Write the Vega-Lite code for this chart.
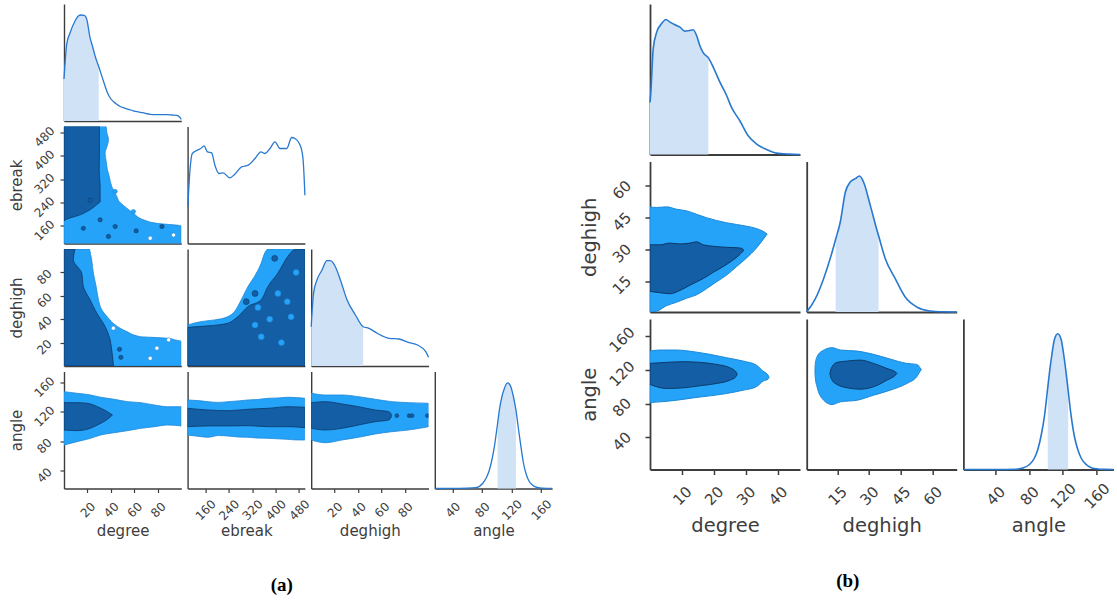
{
"$schema":"https://vega.github.io/schema/vega-lite/v6.json",
"padding":{"left":9,"top":4,"right":2,"bottom":2},
"config":{"view":{"stroke":null},"font":"DejaVu Sans",
"axis":{"grid":false,"labelOverlap":false,"labelFlush":false,"domainColor":"#3d3d3d","domainWidth":1.4,"tickColor":"#3d3d3d","tickWidth":1.2,"labelColor":"#3d3d3d","titleColor":"#3d3d3d","labelFont":"DejaVu Sans","titleFont":"DejaVu Sans","titleFontWeight":"normal"}},
"datasets":{
"a11":[{"x":0,"h":42},{"x":2.3,"h":76.7},{"x":5.1,"h":88},{"x":9.4,"h":100},{"x":12.2,"h":105},{"x":14.5,"h":106},{"x":17.3,"h":105.7},{"x":19.4,"h":101.7},{"x":22.2,"h":83.3},{"x":24.5,"h":74},{"x":26.5,"h":65},{"x":29.6,"h":54.5},{"x":33.6,"h":40},{"x":37,"h":28.3},{"x":40,"h":22},{"x":44.4,"h":17.3},{"x":48,"h":14.5},{"x":52.1,"h":12.7},{"x":57,"h":11},{"x":62.1,"h":9.3},{"x":67,"h":8.3},{"x":73.5,"h":6.7},{"x":80,"h":6.4},{"x":87.8,"h":6.3},{"x":92,"h":6},{"x":96.3,"h":5.7},{"x":98.5,"h":4},{"x":100,"h":1.7}],
"a22":[{"x":101,"h":37.3},{"x":108,"h":73},{"x":116,"h":90},{"x":131,"h":93},{"x":145,"h":95},{"x":156,"h":97.6},{"x":168,"h":91.6},{"x":182,"h":90.6},{"x":193,"h":78.3},{"x":207,"h":70},{"x":221,"h":70.6},{"x":244,"h":65.6},{"x":261,"h":69.3},{"x":284,"h":76.6},{"x":307,"h":78.3},{"x":330,"h":85},{"x":350,"h":91.6},{"x":364,"h":90},{"x":381,"h":95},{"x":398,"h":101.6},{"x":415,"h":95},{"x":438,"h":95},{"x":455,"h":106},{"x":466,"h":105},{"x":486,"h":96.6},{"x":494,"h":83.3},{"x":500,"h":48.3}],
"a33":[{"x":0,"h":39.3},{"x":2,"h":72.7},{"x":4.9,"h":86},{"x":9.2,"h":96},{"x":13.4,"h":105.3},{"x":16.3,"h":105.3},{"x":20.6,"h":99.3},{"x":24.9,"h":86},{"x":30.6,"h":66},{"x":37.7,"h":51},{"x":44.3,"h":39.3},{"x":49.2,"h":37.7},{"x":56.3,"h":32.7},{"x":66.3,"h":27.7},{"x":74.9,"h":27},{"x":83.5,"h":23.3},{"x":90.6,"h":21},{"x":97.7,"h":14.3},{"x":100,"h":8.7}],
"a44":[{"x":16,"h":0},{"x":40,"h":0.1},{"x":60,"h":0.3},{"x":71.7,"h":0.8},{"x":80.8,"h":5},{"x":86,"h":11},{"x":89.9,"h":18.3},{"x":93.5,"h":29},{"x":96.7,"h":41.6},{"x":100,"h":59},{"x":101.1,"h":65},{"x":103.5,"h":78.3},{"x":107,"h":92},{"x":110.3,"h":100},{"x":112.5,"h":104},{"x":114.8,"h":105.6},{"x":117,"h":104.5},{"x":119.2,"h":101.6},{"x":122.5,"h":92},{"x":126,"h":78.3},{"x":129.5,"h":59},{"x":132.8,"h":41.6},{"x":136,"h":26},{"x":139.6,"h":15},{"x":144,"h":7},{"x":148.7,"h":3.3},{"x":155,"h":1},{"x":162,"h":0.3},{"x":175,"h":0}],
"b11":[{"x":0,"h":52},{"x":0.2,"h":59},{"x":1,"h":105.7},{"x":2.1,"h":122.4},{"x":3.6,"h":130.7},{"x":5,"h":135},{"x":6.25,"h":132.4},{"x":7.8,"h":129.7},{"x":9.4,"h":127.4},{"x":10.9,"h":123.4},{"x":12.3,"h":124},{"x":13.5,"h":124.7},{"x":14.6,"h":119},{"x":15.6,"h":109},{"x":16.7,"h":101.7},{"x":18.3,"h":96.6},{"x":19.8,"h":87.4},{"x":21.9,"h":72.4},{"x":24,"h":59},{"x":25.5,"h":47.4},{"x":28.1,"h":34},{"x":30.7,"h":19},{"x":33.3,"h":10.7},{"x":36.5,"h":5},{"x":39.6,"h":1.4},{"x":43.75,"h":0.4},{"x":47,"h":0}],
"b22":[{"x":0.5,"h":0.5},{"x":1,"h":1.6},{"x":4.6,"h":13.3},{"x":8.5,"h":33.3},{"x":13.2,"h":65},{"x":14.2,"h":72.8},{"x":16.4,"h":90},{"x":18.8,"h":120},{"x":21.1,"h":130},{"x":23.5,"h":133.3},{"x":25.5,"h":136},{"x":27.4,"h":130},{"x":30.6,"h":106.6},{"x":34,"h":80},{"x":34.5,"h":76.4},{"x":37.7,"h":53.3},{"x":42.4,"h":33.3},{"x":47.1,"h":15},{"x":52.6,"h":5},{"x":58.9,"h":1},{"x":65,"h":0.2},{"x":71.5,"h":0}],
"b33":[{"x":2,"h":0},{"x":40,"h":0},{"x":64.6,"h":0.3},{"x":72.4,"h":1.5},{"x":80.4,"h":5},{"x":86,"h":11},{"x":90.3,"h":20},{"x":94.5,"h":35},{"x":98.2,"h":53.3},{"x":102.1,"h":82},{"x":104.1,"h":96.6},{"x":107,"h":115},{"x":110,"h":130},{"x":114,"h":135.7},{"x":118,"h":130},{"x":121,"h":115},{"x":123.9,"h":96.6},{"x":126.3,"h":79},{"x":129.9,"h":53.3},{"x":133.5,"h":34},{"x":137.7,"h":20},{"x":142,"h":11},{"x":147.7,"h":5},{"x":153,"h":2},{"x":159.6,"h":0.7},{"x":170,"h":0.1},{"x":180,"h":0}],
"a21c":[{"lev":1,"y":100,"x":100},{"lev":1,"y":160,"x":100},{"lev":1,"y":169,"x":79},{"lev":1,"y":181,"x":67.8},{"lev":1,"y":204,"x":59},{"lev":1,"y":226,"x":52},{"lev":1,"y":244,"x":47},{"lev":1,"y":261,"x":45},{"lev":1,"y":295,"x":40.7},{"lev":1,"y":330,"x":38.5},{"lev":1,"y":352,"x":37},{"lev":1,"y":380,"x":36},{"lev":1,"y":409,"x":35},{"lev":1,"y":430,"x":36.5},{"lev":1,"y":455,"x":37.9},{"lev":1,"y":480,"x":36.5},{"lev":1,"y":500,"x":35.9},
{"lev":2,"y":178,"x":0},{"lev":2,"y":183,"x":2.3},{"lev":2,"y":198,"x":13.7},{"lev":2,"y":215,"x":22},{"lev":2,"y":233,"x":28},{"lev":2,"y":244,"x":30.8},{"lev":2,"y":295,"x":30.8},{"lev":2,"y":350,"x":30},{"lev":2,"y":409,"x":30.2},{"lev":2,"y":500,"x":30.2}],
"a21b":[{"x":22.2,"y":248,"lev":2},{"x":43.6,"y":158,"lev":2},{"x":30.8,"y":181,"lev":2},{"x":37.9,"y":124,"lev":2},{"x":61.5,"y":143,"lev":2},{"x":83.5,"y":158,"lev":2},{"x":16.5,"y":152,"lev":2},{"x":73.5,"y":118,"lev":0},{"x":93.4,"y":129,"lev":0},{"x":43.6,"y":278,"lev":1},{"x":59.2,"y":209,"lev":1}],
"a31c":[{"lev":1,"y":0,"x":100},{"lev":1,"y":21,"x":100},{"lev":1,"y":22.3,"x":95},{"lev":1,"y":23.7,"x":87.8},{"lev":1,"y":24.5,"x":75},{"lev":1,"y":25.1,"x":65},{"lev":1,"y":29.4,"x":53.6},{"lev":1,"y":35.1,"x":43.6},{"lev":1,"y":40.9,"x":37.9},{"lev":1,"y":48,"x":32.2},{"lev":1,"y":56.6,"x":29.4},{"lev":1,"y":68,"x":27.4},{"lev":1,"y":79.4,"x":25},{"lev":1,"y":90.8,"x":23.6},{"lev":1,"y":100,"x":21.7},
{"lev":2,"y":0,"x":42.2},{"lev":2,"y":13.7,"x":40.7},{"lev":2,"y":22.3,"x":39.3},{"lev":2,"y":33.8,"x":35},{"lev":2,"y":45.2,"x":27.9},{"lev":2,"y":56.6,"x":22.2},{"lev":2,"y":68,"x":16.5},{"lev":2,"y":79.4,"x":15.1},{"lev":2,"y":90.8,"x":8},{"lev":2,"y":100,"x":9.4}],
"a31b":[{"x":47.3,"y":14.3,"lev":2},{"x":48.5,"y":7.4,"lev":2},{"x":73.5,"y":6.6,"lev":0},{"x":42.1,"y":32.3,"lev":0},{"x":79.2,"y":15.2,"lev":0},{"x":89.2,"y":22.3,"lev":0}],
"a32c":[{"lev":1,"x":100,"y":35.1},{"lev":1,"x":147,"y":38},{"lev":1,"x":192,"y":39.4},{"lev":1,"x":238,"y":42.3},{"lev":1,"x":260,"y":46.5},{"lev":1,"x":283,"y":56.6},{"lev":1,"x":306,"y":68},{"lev":1,"x":328,"y":76.5},{"lev":1,"x":351,"y":88},{"lev":1,"x":363,"y":96.6},{"lev":1,"x":374,"y":100},{"lev":1,"x":500,"y":100},
{"lev":2,"x":100,"y":33.1},{"lev":2,"x":170,"y":34.3},{"lev":2,"x":238,"y":36.6},{"lev":2,"x":272,"y":42.3},{"lev":2,"x":306,"y":50.8},{"lev":2,"x":351,"y":56.6},{"lev":2,"x":374,"y":68},{"lev":2,"x":408,"y":79.4},{"lev":2,"x":442,"y":93.7},{"lev":2,"x":465,"y":99.4},{"lev":2,"x":500,"y":100}],
"a32b":[{"x":340,"y":50,"lev":1},{"x":351,"y":25,"lev":1},{"x":453,"y":42,"lev":1},{"x":408,"y":62,"lev":1},{"x":470,"y":80,"lev":1},{"x":420,"y":20,"lev":1},{"x":380,"y":40,"lev":1},{"x":440,"y":55,"lev":1},{"x":330,"y":35,"lev":1},{"x":397,"y":92,"lev":2},{"x":330,"y":62,"lev":2},{"x":300,"y":55,"lev":2}],
"a41c":[{"lev":1,"x":0,"y":147.6,"y2":75.1},{"lev":1,"x":11,"y":145.4,"y2":79.6},{"lev":1,"x":22.7,"y":143.1,"y2":84.2},{"lev":1,"x":31.3,"y":140,"y2":88.7},{"lev":1,"x":42.7,"y":137.3,"y2":91.8},{"lev":1,"x":54.1,"y":134,"y2":94.6},{"lev":1,"x":65.5,"y":132.7,"y2":97.8},{"lev":1,"x":76.9,"y":129.5,"y2":100},{"lev":1,"x":88.3,"y":127.2,"y2":102.3},{"lev":1,"x":100,"y":127.2,"y2":101},
{"lev":2,"x":0,"y":132.7,"y2":95.5},{"lev":2,"x":11,"y":132.7,"y2":94.6},{"lev":2,"x":19.9,"y":131.8,"y2":96.5},{"lev":2,"x":28.5,"y":127.2,"y2":102.3},{"lev":2,"x":37,"y":120.4,"y2":110},{"lev":2,"x":41.3,"y":115.9,"y2":115.9}],
"a42c":[{"lev":1,"x":100,"y":136.3,"y2":88.7},{"lev":1,"x":135,"y":135.5,"y2":87},{"lev":1,"x":170,"y":134,"y2":85.6},{"lev":1,"x":205,"y":133,"y2":88},{"lev":1,"x":238,"y":134,"y2":87.3},{"lev":1,"x":272,"y":135,"y2":86},{"lev":1,"x":306,"y":136.3,"y2":85.6},{"lev":1,"x":340,"y":137,"y2":84.5},{"lev":1,"x":374,"y":138.6,"y2":84.2},{"lev":1,"x":408,"y":139,"y2":83.5},{"lev":1,"x":442,"y":140,"y2":82.8},{"lev":1,"x":470,"y":139.5,"y2":82},{"lev":1,"x":500,"y":138.6,"y2":81.9},
{"lev":2,"x":100,"y":125,"y2":100},{"lev":2,"x":170,"y":122.7,"y2":101},{"lev":2,"x":238,"y":121.8,"y2":101},{"lev":2,"x":306,"y":123.7,"y2":101.4},{"lev":2,"x":374,"y":125,"y2":100},{"lev":2,"x":442,"y":127.2,"y2":100},{"lev":2,"x":500,"y":126.4,"y2":98.7}],
"a43c":[{"lev":1,"x":0,"y":145.4,"y2":81.9},{"lev":1,"x":12,"y":143.1,"y2":78.2},{"lev":1,"x":26.2,"y":143.1,"y2":81.9},{"lev":1,"x":40.4,"y":140.8,"y2":85.6},{"lev":1,"x":54.6,"y":137.3,"y2":90.1},{"lev":1,"x":68.8,"y":134,"y2":93.2},{"lev":1,"x":83,"y":132.7,"y2":95.5},{"lev":1,"x":100,"y":131.8,"y2":100},
{"lev":2,"x":0,"y":132.7,"y2":97.8},{"lev":2,"x":12,"y":134,"y2":95.5},{"lev":2,"x":26.2,"y":130.9,"y2":97.8},{"lev":2,"x":40.4,"y":127.2,"y2":102.3},{"lev":2,"x":54.6,"y":122.7,"y2":106.8},{"lev":2,"x":66,"y":120.4,"y2":109.1},{"lev":2,"x":68,"y":117.5,"y2":112.5},{"lev":2,"x":68.5,"y":115,"y2":115}],
"a43b":[{"x":73,"y":115,"lev":2},{"x":83.5,"y":115,"lev":2},{"x":86,"y":115,"lev":2},{"x":99,"y":115,"lev":2}],
"b21c":[{"lev":1,"x":0,"y":50.1,"y2":0.5},{"lev":1,"x":2.1,"y":49.8,"y2":0.9},{"lev":1,"x":5.2,"y":50.1,"y2":3.5},{"lev":1,"x":8.3,"y":49,"y2":5.1},{"lev":1,"x":11.5,"y":48.2,"y2":7},{"lev":1,"x":14.6,"y":46.6,"y2":8.6},{"lev":1,"x":17.7,"y":45,"y2":11.5},{"lev":1,"x":20.8,"y":43.7,"y2":14.7},{"lev":1,"x":24,"y":42.6,"y2":17.9},{"lev":1,"x":27.1,"y":41.8,"y2":21.9},{"lev":1,"x":30.2,"y":41,"y2":25.9},{"lev":1,"x":33.3,"y":39.9,"y2":30.6},{"lev":1,"x":35.4,"y":38.6,"y2":34.6},{"lev":1,"x":36.7,"y":37.3,"y2":37.3},
{"lev":2,"x":0,"y":32.2,"y2":10.2},{"lev":2,"x":3.1,"y":32.2,"y2":9.6},{"lev":2,"x":6.25,"y":33,"y2":9.1},{"lev":2,"x":9.4,"y":32.6,"y2":10.7},{"lev":2,"x":12.5,"y":33,"y2":13.1},{"lev":2,"x":14.6,"y":33.6,"y2":14.7},{"lev":2,"x":16.7,"y":32.2,"y2":16.3},{"lev":2,"x":19.8,"y":31.5,"y2":19.2},{"lev":2,"x":22.9,"y":31.1,"y2":21.9},{"lev":2,"x":26,"y":30.9,"y2":25},{"lev":2,"x":28.6,"y":30.6,"y2":28.3},{"lev":2,"x":29.4,"y":29.7,"y2":29.7}],
"b31c":[{"lev":1,"x":0,"y":142.1,"y2":81.2},{"lev":1,"x":3.1,"y":143.3,"y2":82},{"lev":1,"x":8.3,"y":143.3,"y2":83.9},{"lev":1,"x":13.5,"y":141.4,"y2":86.7},{"lev":1,"x":18.75,"y":138.2,"y2":89.1},{"lev":1,"x":24,"y":134.2,"y2":91.9},{"lev":1,"x":29.2,"y":130.2,"y2":95.8},{"lev":1,"x":33.3,"y":125.5,"y2":99.8},{"lev":1,"x":35.4,"y":118.4,"y2":106.5},{"lev":1,"x":37,"y":113.6,"y2":108.9},{"lev":1,"x":37.3,"y":111,"y2":111},
{"lev":2,"x":0,"y":127.5,"y2":102.6},{"lev":2,"x":5.2,"y":128.7,"y2":97.8},{"lev":2,"x":10.4,"y":129.5,"y2":98.6},{"lev":2,"x":15.6,"y":128.7,"y2":101},{"lev":2,"x":20.8,"y":126.3,"y2":103.7},{"lev":2,"x":25,"y":122.4,"y2":107.6},{"lev":2,"x":26.9,"y":117.6,"y2":111.7},{"lev":2,"x":27.3,"y":114.4,"y2":114.4}],
"b32c":[{"lev":1,"x":4.4,"y":119,"y2":118},{"lev":1,"x":4.6,"y":127.5,"y2":109.7},{"lev":1,"x":5.4,"y":135.4,"y2":99.8},{"lev":1,"x":7.8,"y":142.1,"y2":85.9},{"lev":1,"x":12.5,"y":146.1,"y2":78.8},{"lev":1,"x":16.4,"y":143.3,"y2":82},{"lev":1,"x":24.3,"y":142.1,"y2":83.9},{"lev":1,"x":32.1,"y":138.2,"y2":89.8},{"lev":1,"x":40,"y":132.6,"y2":95.8},{"lev":1,"x":47.9,"y":127.5,"y2":103.7},{"lev":1,"x":52.6,"y":126.3,"y2":111.7},{"lev":1,"x":54.6,"y":120.7,"y2":119.5},{"lev":1,"x":54.8,"y":120,"y2":120},
{"lev":2,"x":11.5,"y":115.7,"y2":115.5},{"lev":2,"x":11.7,"y":118.3,"y2":112.9},{"lev":2,"x":12.5,"y":123.6,"y2":107.6},{"lev":2,"x":14.9,"y":128.7,"y2":102.5},{"lev":2,"x":19.6,"y":130.2,"y2":98.6},{"lev":2,"x":25.8,"y":131.4,"y2":97},{"lev":2,"x":32.1,"y":127.5,"y2":99.8},{"lev":2,"x":38.4,"y":121.5,"y2":107.6},{"lev":2,"x":42.8,"y":116.8,"y2":114.4},{"lev":2,"x":43.2,"y":115.6,"y2":115.6}]
},
"hconcat":[
{"columns":4,"spacing":{"row":5.5,"column":5.6},"bounds":"flush",
"title":{"text":"(a)","orient":"bottom","anchor":"middle","font":"Liberation Serif","fontSize":19,"fontWeight":"bold","color":"#000000","offset":37},
"concat":[
{"width":117.3,"height":117,"data":{"name":"a11"},
"encoding":{"x":{"field":"x","type":"quantitative","scale":{"domain":[0,100],"nice":false,"zero":false},"axis":{"labels":false,"ticks":false,"title":null}},
"y":{"field":"h","type":"quantitative","scale":{"domain":[0,117],"nice":false},"axis":{"labels":false,"ticks":false,"title":null}}},
"layer":[{"transform":[{"filter":"datum.x <= 29.6"}],"mark":{"type":"area","fill":"#cfe2f6","interpolate":"monotone"}},
{"mark":{"type":"line","stroke":"#2878d0","strokeWidth":1.3,"interpolate":"monotone"}}]},
{"width":117.3,"height":117,"data":{"values":[]},"mark":"point"},
{"width":117.3,"height":117,"data":{"values":[]},"mark":"point"},
{"width":117.3,"height":117,"data":{"values":[]},"mark":"point"},

{"width":117.3,"height":117,"data":{"name":"a21c"},
"encoding":{"x":{"field":"x","type":"quantitative","scale":{"domain":[0,100],"nice":false,"zero":false},"axis":{"labels":false,"ticks":false,"title":null}},
"y":{"field":"y","type":"quantitative","scale":{"domain":[100,500],"nice":false,"zero":false},"axis":{"title":"ebreak","values":[160,240,320,400,480],"labelAngle":-45,"labelAlign":"center","labelBaseline":"middle","tickSize":4,"labelPadding":16,"labelOffset":4,"labelFontSize":12,"titleFontSize":15,"minExtent":32,"maxExtent":32,"titlePadding":8}}},
"layer":[{"transform":[{"filter":"datum.lev == 1"}],"mark":{"type":"area","orient":"horizontal","fill":"#24a3f9","stroke":"#1e88d8","strokeWidth":0.8,"clip":true,"interpolate":"monotone"},"encoding":{"x2":{"datum":0}}},
{"transform":[{"filter":"datum.lev == 2"}],"mark":{"type":"area","orient":"horizontal","fill":"#135ea4","stroke":"#0c3a68","strokeWidth":0.8,"clip":true,"interpolate":"monotone"},"encoding":{"x2":{"datum":0}}},
{"data":{"name":"a21b"},"mark":{"type":"circle","size":18,"opacity":1,"clip":true,"strokeWidth":0.6},"encoding":{"color":{"field":"lev","type":"nominal","scale":{"domain":[0,1,2],"range":["#ffffff","#24a3f9","#135ea4"]},"legend":null},"stroke":{"field":"lev","type":"nominal","scale":{"domain":[0,1,2],"range":["#1e88d8","#1e88d8","#0c3a68"]},"legend":null}}}]},
{"width":117.3,"height":117,"data":{"name":"a22"},
"encoding":{"x":{"field":"x","type":"quantitative","scale":{"domain":[100,500],"nice":false,"zero":false},"axis":{"labels":false,"ticks":false,"title":null}},
"y":{"field":"h","type":"quantitative","scale":{"domain":[0,117],"nice":false},"axis":{"labels":false,"ticks":false,"title":null}}},
"layer":[{"mark":{"type":"line","stroke":"#2878d0","strokeWidth":1.3,"interpolate":"monotone"}}]},
{"width":117.3,"height":117,"data":{"values":[]},"mark":"point"},
{"width":117.3,"height":117,"data":{"values":[]},"mark":"point"},

{"width":117.3,"height":117,"data":{"name":"a31c"},
"encoding":{"x":{"field":"x","type":"quantitative","scale":{"domain":[0,100],"nice":false,"zero":false},"axis":{"labels":false,"ticks":false,"title":null}},
"y":{"field":"y","type":"quantitative","scale":{"domain":[0,100],"nice":false,"zero":false},"axis":{"title":"deghigh","values":[20,40,60,80],"labelAngle":-45,"labelAlign":"center","labelBaseline":"middle","tickSize":4,"labelPadding":16,"labelOffset":4,"labelFontSize":12,"titleFontSize":15,"minExtent":32,"maxExtent":32,"titlePadding":8}}},
"layer":[{"transform":[{"filter":"datum.lev == 1"}],"mark":{"type":"area","orient":"horizontal","fill":"#24a3f9","stroke":"#1e88d8","strokeWidth":0.8,"clip":true,"interpolate":"monotone"},"encoding":{"x2":{"datum":0}}},
{"transform":[{"filter":"datum.lev == 2"}],"mark":{"type":"area","orient":"horizontal","fill":"#135ea4","stroke":"#0c3a68","strokeWidth":0.8,"clip":true,"interpolate":"monotone"},"encoding":{"x2":{"datum":0}}},
{"data":{"name":"a31b"},"mark":{"type":"circle","size":18,"opacity":1,"clip":true,"strokeWidth":0.6},"encoding":{"color":{"field":"lev","type":"nominal","scale":{"domain":[0,1,2],"range":["#ffffff","#24a3f9","#135ea4"]},"legend":null},"stroke":{"field":"lev","type":"nominal","scale":{"domain":[0,1,2],"range":["#1e88d8","#1e88d8","#0c3a68"]},"legend":null}}}]},
{"width":117.3,"height":117,"data":{"name":"a32c"},
"encoding":{"x":{"field":"x","type":"quantitative","scale":{"domain":[100,500],"nice":false,"zero":false},"axis":{"labels":false,"ticks":false,"title":null}},
"y":{"field":"y","type":"quantitative","scale":{"domain":[0,100],"nice":false,"zero":false},"axis":{"labels":false,"ticks":false,"title":null}}},
"layer":[{"transform":[{"filter":"datum.lev == 1"}],"mark":{"type":"area","fill":"#24a3f9","stroke":"#1e88d8","strokeWidth":0.8,"clip":true,"interpolate":"monotone"},"encoding":{"y2":{"datum":0}}},
{"transform":[{"filter":"datum.lev == 2"}],"mark":{"type":"area","fill":"#135ea4","stroke":"#0c3a68","strokeWidth":0.8,"clip":true,"interpolate":"monotone"},"encoding":{"y2":{"datum":0}}},
{"data":{"name":"a32b"},"mark":{"type":"circle","size":35,"opacity":1,"clip":true,"strokeWidth":0.6},"encoding":{"color":{"field":"lev","type":"nominal","scale":{"domain":[0,1,2],"range":["#ffffff","#24a3f9","#135ea4"]},"legend":null},"stroke":{"field":"lev","type":"nominal","scale":{"domain":[0,1,2],"range":["#1e88d8","#1e88d8","#0c3a68"]},"legend":null}}}]},
{"width":117.3,"height":117,"data":{"name":"a33"},
"encoding":{"x":{"field":"x","type":"quantitative","scale":{"domain":[0,100],"nice":false,"zero":false},"axis":{"labels":false,"ticks":false,"title":null}},
"y":{"field":"h","type":"quantitative","scale":{"domain":[0,117],"nice":false},"axis":{"labels":false,"ticks":false,"title":null}}},
"layer":[{"transform":[{"filter":"datum.x <= 44.3"}],"mark":{"type":"area","fill":"#cfe2f6","interpolate":"monotone"}},
{"mark":{"type":"line","stroke":"#2878d0","strokeWidth":1.3,"interpolate":"monotone"}}]},
{"width":117.3,"height":117,"data":{"values":[]},"mark":"point"},

{"width":117.3,"height":117,"data":{"name":"a41c"},
"encoding":{"x":{"field":"x","type":"quantitative","scale":{"domain":[0,100],"nice":false,"zero":false},"axis":{"title":"degree","values":[20,40,60,80],"labelAngle":-45,"labelAlign":"center","labelBaseline":"middle","tickSize":4,"labelPadding":17,"labelFontSize":12,"titleFontSize":15,"minExtent":30,"maxExtent":30,"titlePadding":5}},
"y":{"field":"y","type":"quantitative","scale":{"domain":[16,175],"nice":false,"zero":false},"axis":{"title":"angle","values":[40,80,120,160],"labelAngle":-45,"labelAlign":"center","labelBaseline":"middle","tickSize":4,"labelPadding":16,"labelOffset":4,"labelFontSize":12,"titleFontSize":15,"minExtent":32,"maxExtent":32,"titlePadding":8}}},
"layer":[{"transform":[{"filter":"datum.lev == 1"}],"mark":{"type":"area","fill":"#24a3f9","stroke":"#1e88d8","strokeWidth":0.8,"clip":true,"interpolate":"monotone"},"encoding":{"y2":{"field":"y2"}}},
{"transform":[{"filter":"datum.lev == 2"}],"mark":{"type":"area","fill":"#135ea4","stroke":"#0c3a68","strokeWidth":0.8,"clip":true,"interpolate":"monotone"},"encoding":{"y2":{"field":"y2"}}}]},
{"width":117.3,"height":117,"data":{"name":"a42c"},
"encoding":{"x":{"field":"x","type":"quantitative","scale":{"domain":[100,500],"nice":false,"zero":false},"axis":{"title":"ebreak","values":[160,240,320,400,480],"labelAngle":-45,"labelAlign":"center","labelBaseline":"middle","tickSize":4,"labelPadding":17,"labelFontSize":12,"titleFontSize":15,"minExtent":30,"maxExtent":30,"titlePadding":5}},
"y":{"field":"y","type":"quantitative","scale":{"domain":[16,175],"nice":false,"zero":false},"axis":{"labels":false,"ticks":false,"title":null}}},
"layer":[{"transform":[{"filter":"datum.lev == 1"}],"mark":{"type":"area","fill":"#24a3f9","stroke":"#1e88d8","strokeWidth":0.8,"clip":true,"interpolate":"monotone"},"encoding":{"y2":{"field":"y2"}}},
{"transform":[{"filter":"datum.lev == 2"}],"mark":{"type":"area","fill":"#135ea4","stroke":"#0c3a68","strokeWidth":0.8,"clip":true,"interpolate":"monotone"},"encoding":{"y2":{"field":"y2"}}}]},
{"width":117.3,"height":117,"data":{"name":"a43c"},
"encoding":{"x":{"field":"x","type":"quantitative","scale":{"domain":[0,100],"nice":false,"zero":false},"axis":{"title":"deghigh","values":[20,40,60,80],"labelAngle":-45,"labelAlign":"center","labelBaseline":"middle","tickSize":4,"labelPadding":17,"labelFontSize":12,"titleFontSize":15,"minExtent":30,"maxExtent":30,"titlePadding":5}},
"y":{"field":"y","type":"quantitative","scale":{"domain":[16,175],"nice":false,"zero":false},"axis":{"labels":false,"ticks":false,"title":null}}},
"layer":[{"transform":[{"filter":"datum.lev == 1"}],"mark":{"type":"area","fill":"#24a3f9","stroke":"#1e88d8","strokeWidth":0.8,"clip":true,"interpolate":"monotone"},"encoding":{"y2":{"field":"y2"}}},
{"transform":[{"filter":"datum.lev == 2"}],"mark":{"type":"area","fill":"#135ea4","stroke":"#0c3a68","strokeWidth":0.8,"clip":true,"interpolate":"monotone"},"encoding":{"y2":{"field":"y2"}}},
{"data":{"name":"a43b"},"mark":{"type":"circle","size":14,"opacity":1,"clip":true,"strokeWidth":0.6},"encoding":{"color":{"field":"lev","type":"nominal","scale":{"domain":[0,1,2],"range":["#ffffff","#24a3f9","#135ea4"]},"legend":null},"stroke":{"field":"lev","type":"nominal","scale":{"domain":[0,1,2],"range":["#1e88d8","#1e88d8","#0c3a68"]},"legend":null}}}]},
{"width":117.3,"height":117,"data":{"name":"a44"},
"encoding":{"x":{"field":"x","type":"quantitative","scale":{"domain":[16,175],"nice":false,"zero":false},"axis":{"title":"angle","values":[40,80,120,160],"labelAngle":-45,"labelAlign":"center","labelBaseline":"middle","tickSize":4,"labelPadding":17,"labelFontSize":12,"titleFontSize":15,"minExtent":30,"maxExtent":30,"titlePadding":5}},
"y":{"field":"h","type":"quantitative","scale":{"domain":[0,117],"nice":false},"axis":{"labels":false,"ticks":false,"title":null}}},
"layer":[{"transform":[{"filter":"datum.x >= 101.1 && datum.x <= 126"}],"mark":{"type":"area","fill":"#cfe2f6","interpolate":"monotone"}},
{"mark":{"type":"line","stroke":"#2878d0","strokeWidth":1.3,"interpolate":"monotone"}}]}
]},
{"columns":3,"spacing":{"row":6.5,"column":6.7},"bounds":"flush",
"title":{"text":"(b)","orient":"bottom","anchor":"middle","font":"Liberation Serif","fontSize":19,"fontWeight":"bold","color":"#000000","offset":37},
"concat":[
{"width":150,"height":150.5,"data":{"name":"b11"},
"encoding":{"x":{"field":"x","type":"quantitative","scale":{"domain":[0,47],"nice":false,"zero":false},"axis":{"labels":false,"ticks":false,"title":null,"domainWidth":1.8}},
"y":{"field":"h","type":"quantitative","scale":{"domain":[0,150.5],"nice":false},"axis":{"labels":false,"ticks":false,"title":null,"domainWidth":1.8}}},
"layer":[{"transform":[{"filter":"datum.x <= 18.3"}],"mark":{"type":"area","fill":"#cfe2f6","interpolate":"monotone"}},
{"mark":{"type":"line","stroke":"#2878d0","strokeWidth":1.6,"interpolate":"monotone"}}]},
{"width":150,"height":150.5,"data":{"values":[]},"mark":"point"},
{"width":150,"height":150.5,"data":{"values":[]},"mark":"point"},

{"width":150,"height":150.5,"data":{"name":"b21c"},
"encoding":{"x":{"field":"x","type":"quantitative","scale":{"domain":[0,47],"nice":false,"zero":false},"axis":{"labels":false,"ticks":false,"title":null,"domainWidth":1.8}},
"y":{"field":"y","type":"quantitative","scale":{"domain":[0.5,71.5],"nice":false,"zero":false},"axis":{"title":"deghigh","values":[15,30,45,60],"labelAngle":-45,"labelAlign":"center","labelBaseline":"middle","tickSize":5,"labelPadding":23.5,"labelOffset":3.5,"labelFontSize":15,"titleFontSize":19.5,"minExtent":42,"maxExtent":42,"titlePadding":9,"domainWidth":1.8,"tickWidth":1.5}}},
"layer":[{"transform":[{"filter":"datum.lev == 1"}],"mark":{"type":"area","fill":"#24a3f9","stroke":"#1e88d8","strokeWidth":1,"clip":true,"interpolate":"monotone"},"encoding":{"y2":{"field":"y2"}}},
{"transform":[{"filter":"datum.lev == 2"}],"mark":{"type":"area","fill":"#135ea4","stroke":"#0c3a68","strokeWidth":1,"clip":true,"interpolate":"monotone"},"encoding":{"y2":{"field":"y2"}}}]},
{"width":150,"height":150.5,"data":{"name":"b22"},
"encoding":{"x":{"field":"x","type":"quantitative","scale":{"domain":[0.5,71.5],"nice":false,"zero":false},"axis":{"labels":false,"ticks":false,"title":null,"domainWidth":1.8}},
"y":{"field":"h","type":"quantitative","scale":{"domain":[0,150.5],"nice":false},"axis":{"labels":false,"ticks":false,"title":null,"domainWidth":1.8}}},
"layer":[{"transform":[{"filter":"datum.x >= 14.2 && datum.x <= 34.5"}],"mark":{"type":"area","fill":"#cfe2f6","interpolate":"monotone"}},
{"mark":{"type":"line","stroke":"#2878d0","strokeWidth":1.6,"interpolate":"monotone"}}]},
{"width":150,"height":150.5,"data":{"values":[]},"mark":"point"},

{"width":150,"height":150.5,"data":{"name":"b31c"},
"encoding":{"x":{"field":"x","type":"quantitative","scale":{"domain":[0,47],"nice":false,"zero":false},"axis":{"title":"degree","values":[10,20,30,40],"labelAngle":-45,"labelAlign":"center","labelBaseline":"middle","tickSize":5,"labelPadding":21,"labelFontSize":15,"titleFontSize":19.5,"minExtent":40,"maxExtent":40,"titlePadding":7,"domainWidth":1.8,"tickWidth":1.5}},
"y":{"field":"y","type":"quantitative","scale":{"domain":[2,180],"nice":false,"zero":false},"axis":{"title":"angle","values":[40,80,120,160],"labelAngle":-45,"labelAlign":"center","labelBaseline":"middle","tickSize":5,"labelPadding":23.5,"labelOffset":3.5,"labelFontSize":15,"titleFontSize":19.5,"minExtent":42,"maxExtent":42,"titlePadding":9,"domainWidth":1.8,"tickWidth":1.5}}},
"layer":[{"transform":[{"filter":"datum.lev == 1"}],"mark":{"type":"area","fill":"#24a3f9","stroke":"#1e88d8","strokeWidth":1,"clip":true,"interpolate":"monotone"},"encoding":{"y2":{"field":"y2"}}},
{"transform":[{"filter":"datum.lev == 2"}],"mark":{"type":"area","fill":"#135ea4","stroke":"#0c3a68","strokeWidth":1,"clip":true,"interpolate":"monotone"},"encoding":{"y2":{"field":"y2"}}}]},
{"width":150,"height":150.5,"data":{"name":"b32c"},
"encoding":{"x":{"field":"x","type":"quantitative","scale":{"domain":[0.5,71.5],"nice":false,"zero":false},"axis":{"title":"deghigh","values":[15,30,45,60],"labelAngle":-45,"labelAlign":"center","labelBaseline":"middle","tickSize":5,"labelPadding":21,"labelFontSize":15,"titleFontSize":19.5,"minExtent":40,"maxExtent":40,"titlePadding":7,"domainWidth":1.8,"tickWidth":1.5}},
"y":{"field":"y","type":"quantitative","scale":{"domain":[2,180],"nice":false,"zero":false},"axis":{"labels":false,"ticks":false,"title":null,"domainWidth":1.8}}},
"layer":[{"transform":[{"filter":"datum.lev == 1"}],"mark":{"type":"area","fill":"#24a3f9","stroke":"#1e88d8","strokeWidth":1,"clip":true,"interpolate":"monotone"},"encoding":{"y2":{"field":"y2"}}},
{"transform":[{"filter":"datum.lev == 2"}],"mark":{"type":"area","fill":"#135ea4","stroke":"#0c3a68","strokeWidth":1,"clip":true,"interpolate":"monotone"},"encoding":{"y2":{"field":"y2"}}}]},
{"width":150,"height":150.5,"data":{"name":"b33"},
"encoding":{"x":{"field":"x","type":"quantitative","scale":{"domain":[2,180],"nice":false,"zero":false},"axis":{"title":"angle","values":[40,80,120,160],"labelAngle":-45,"labelAlign":"center","labelBaseline":"middle","tickSize":5,"labelPadding":21,"labelFontSize":15,"titleFontSize":19.5,"minExtent":40,"maxExtent":40,"titlePadding":7,"domainWidth":1.8,"tickWidth":1.5}},
"y":{"field":"h","type":"quantitative","scale":{"domain":[0,150.5],"nice":false},"axis":{"labels":false,"ticks":false,"title":null,"domainWidth":1.8}}},
"layer":[{"transform":[{"filter":"datum.x >= 102.1 && datum.x <= 126.3"}],"mark":{"type":"area","fill":"#cfe2f6","interpolate":"monotone"}},
{"mark":{"type":"line","stroke":"#2878d0","strokeWidth":1.6,"interpolate":"monotone"}}]}
]}
],
"spacing":24
}
